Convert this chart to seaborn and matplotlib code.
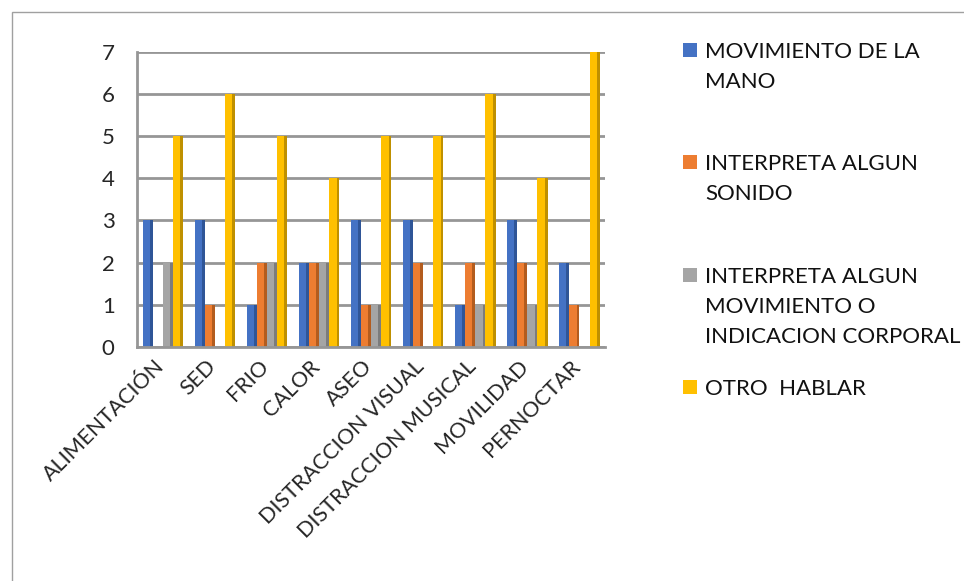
import pandas as pd
import numpy as np
import matplotlib.pyplot as plt
import matplotlib.transforms as mtransforms
import seaborn as sns
from matplotlib.patches import Rectangle

# ── data ───────────────────────────────────────────────────────────────────────
categorias = ["ALIMENTACIÓN", "SED", "FRIO", "CALOR", "ASEO",
              "DISTRACCION VISUAL", "DISTRACCION MUSICAL", "MOVILIDAD", "PERNOCTAR"]
series = ["MOVIMIENTO DE LA\nMANO", "INTERPRETA ALGUN\nSONIDO",
          "INTERPRETA ALGUN\nMOVIMIENTO O\nINDICACION CORPORAL", "OTRO  HABLAR"]
mano      = [3, 3, 1, 2, 3, 3, 1, 3, 2]
sonido    = [0, 1, 2, 2, 1, 2, 2, 2, 1]
corporal  = [2, 0, 2, 2, 1, 0, 1, 1, 0]
hablar    = [5, 6, 5, 4, 5, 5, 6, 4, 7]
colores = ["#4472C4", "#ED7D31", "#A5A5A5", "#FFC000"]
sombras = ["#2F5597", "#B35C1E", "#7C7C7C", "#BF9000"]

df = pd.DataFrame({
    "categoria": categorias * 4,
    "serie": np.repeat(series, len(categorias)),
    "valor": mano + sonido + corporal + hablar,
})

# ── plot ───────────────────────────────────────────────────────────────────────
sns.set_style("white")
plt.rcParams["font.family"] = ["Lato", "DejaVu Sans"]

fig = plt.figure(figsize=(9.64, 5.81), dpi=100)
ax = fig.add_axes([0.142, 0.403, 0.486, 0.508])

sns.barplot(data=df, x="categoria", y="valor", hue="serie",
            palette=colores, width=0.78, gap=0.0, ax=ax,
            saturation=1, legend=False, linewidth=0)

# darker right face for a pseudo-3D look, taken from each bar's geometry
for i, p in enumerate(list(ax.patches)):
    k = i // len(categorias)
    side = p.get_width() * 0.28
    ax.add_patch(Rectangle((p.get_x() + p.get_width() - side, 0), side,
                           p.get_height(), facecolor=sombras[k], linewidth=0,
                           zorder=p.get_zorder()))

ax.set_ylim(0, 7)
ax.set_xlim(-0.5, len(categorias) - 0.5)
ax.set_yticks(range(0, 8))
ax.yaxis.grid(True, color="#969696", linewidth=2)
ax.set_axisbelow(True)
ax.set_xlabel("")
ax.set_ylabel("")
for s in ["top", "right"]:
    ax.spines[s].set_visible(False)
for s in ["left", "bottom"]:
    ax.spines[s].set_color("#969696")
    ax.spines[s].set_linewidth(2)

ax.tick_params(axis="y", labelsize=16, length=6, color="#969696", width=2, pad=10)
ax.set_xticks(range(len(categorias)))
ax.set_xticklabels(categorias, rotation=45, ha="right", va="center",
                   rotation_mode="anchor", fontsize=15.5)
ax.tick_params(axis="x", length=0, pad=12)
offset = mtransforms.ScaledTranslation(-0.02, 0, fig.dpi_scale_trans)
for lbl in ax.get_xticklabels():
    lbl.set_transform(lbl.get_transform() + offset)
ax.set_xticks(np.arange(-0.5, len(categorias)), minor=True)
ax.tick_params(axis="x", which="minor", length=8, color="#969696", width=2)

# outer chart frame
fig.patches.append(Rectangle((12 / 964, -0.1), 1.2, 1 - 12 / 581 + 0.1,
                             transform=fig.transFigure, fill=False,
                             edgecolor="#a0a0a0", linewidth=1))

# legend: square marker aligned with the first line of each entry
ley_y = [50, 162, 275, 387]
for serie, c, y in zip(series, colores, ley_y):
    yf = 1 - y / 581
    fig.patches.append(Rectangle((683 / 964, yf - 7 / 581), 14 / 964, 14 / 581,
                                 transform=fig.transFigure, facecolor=c,
                                 edgecolor="none"))
    fig.text(705 / 964, yf + 8 / 581, serie, ha="left", va="top",
             fontsize=16, linespacing=1.62, color="#111111")

plt.savefig("out.png", dpi=100)
